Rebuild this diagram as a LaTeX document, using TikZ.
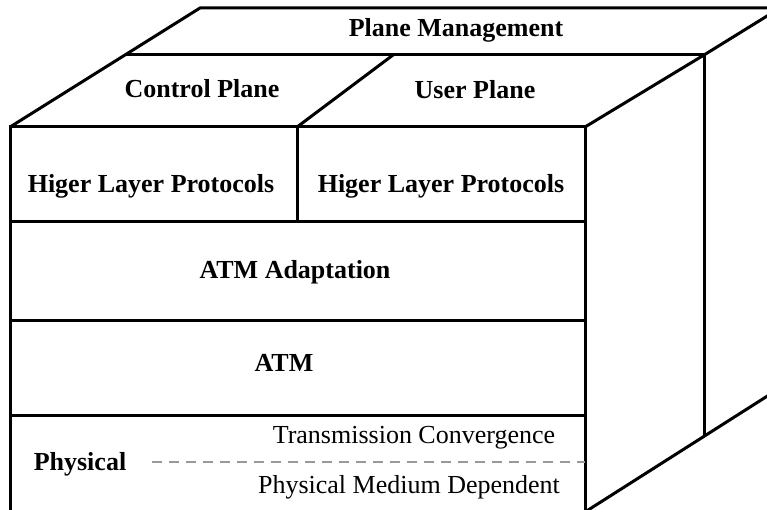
\documentclass[tikz,border=0pt]{standalone}
\usepackage{fontspec}
\setmainfont{Liberation Serif}
\usetikzlibrary{calc}

\begin{document}
\begin{tikzpicture}[
    x=1pt, y=-1pt,
    edge/.style={line width=3pt, line join=miter},
    title/.style={font=\bfseries\fontsize{26}{30}\selectfont, anchor=base, inner sep=0pt},
    sublayer/.style={font=\fontsize{26}{30}\selectfont, anchor=base, inner sep=0pt},
    split/.style={line width=2.5pt, color=gray!80, dash pattern=on 10pt off 7pt},
]
\clip (0,0) rectangle (767,510);

% Corners of the cube
\coordinate (ftl) at (10,127);
\coordinate (ftr) at (585,127);
\coordinate (fbr) at (585,512);
\coordinate (btl) at (200,8);
\coordinate (btr) at (780,8);
\coordinate (ml)  at (125,55);
\coordinate (mr)  at (704,55);
\coordinate (mb)  at (704,436);
\coordinate (dtop) at (393,55);
\coordinate (dbot) at (297,127);

% Front face with its layers
\draw[edge] (ftl) rectangle (fbr);
\draw[edge] (10,222) -- (585,222);
\draw[edge] (10,320) -- (585,320);
\draw[edge] (10,415) -- (585,415);
\draw[edge] (dbot) -- (297,222);

% Top and side faces
\draw[edge] (ftl) -- (btl) -- (btr);
\draw[edge] (ftr) -- (mr) -- (btr);
\draw[edge] (ml) -- (mr) -- (mb);
\draw[edge] (fbr) -- ++(195,-124);
\draw[edge] (dbot) -- (dtop);

% Labels
\node[title] (pm)   at (456,37)  {Plane Management};
\node[title] (cp)   at (202,98)  {Control Plane};
\node[title] (up)   at (475,99)  {User Plane};
\node[title] (hlpl) at (151,193) {Higer Layer Protocols};
\node[title] (hlpr) at (441,193) {Higer Layer Protocols};
\node[title] (aal)  at (295,278) {ATM Adaptation};
\node[title] (atm)  at (284,371) {ATM};
\node[title] (phys) at (80,470)  {Physical};
\node[sublayer] (tc)  at (414,443) {Transmission Convergence};
\node[sublayer] (pmd) at (409,493) {Physical Medium Dependent};

% Dashed split of the physical layer
\coordinate (dashl) at (152,462);
\draw[split] (dashl) -- (dashl -| ftr);

\end{tikzpicture}
\end{document}
